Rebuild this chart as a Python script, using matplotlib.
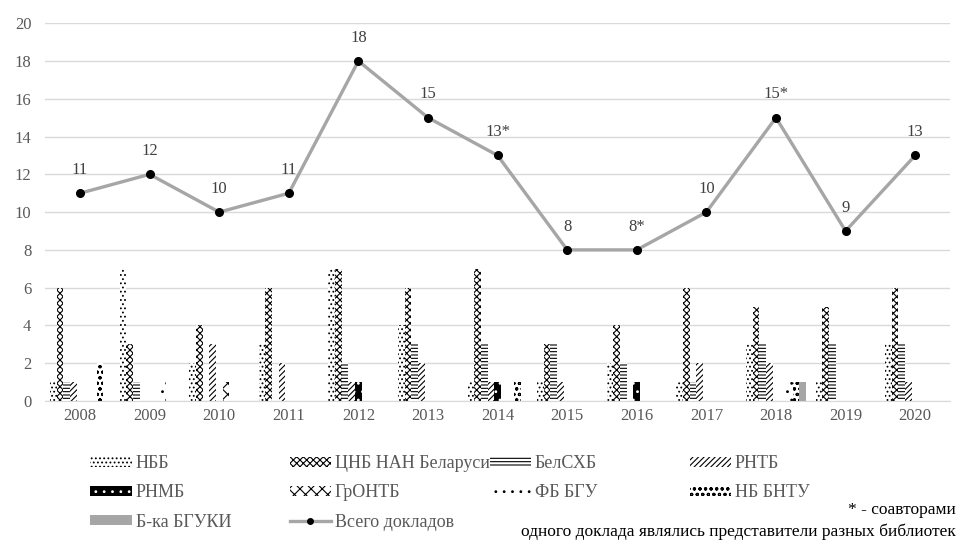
import numpy as np
import matplotlib.pyplot as plt
from matplotlib.patches import Patch
from matplotlib.lines import Line2D

plt.rcParams['font.family'] = ['Liberation Serif', 'DejaVu Serif']
plt.rcParams['hatch.linewidth'] = 0.8

years = ['2008', '2009', '2010', '2011', '2012', '2013', '2014',
         '2015', '2016', '2017', '2018', '2019', '2020']

# доклады по библиотекам
nbb = [1, 7, 2, 3, 7, 4, 1, 1, 2, 1, 3, 1, 3]
cnb = [6, 3, 4, 6, 7, 6, 7, 3, 4, 6, 5, 5, 6]
belshb = [1, 1, 0, 0, 2, 3, 3, 3, 2, 1, 3, 3, 3]
rntb = [1, 0, 3, 2, 1, 2, 1, 1, 0, 2, 2, 0, 1]
rnmb = [0, 0, 0, 0, 1, 0, 1, 0, 1, 0, 0, 0, 0]
grontb = [0, 0, 1, 0, 0, 0, 0, 0, 0, 0, 0, 0, 0]
fb_bgu = [0, 1, 0, 0, 0, 0, 0, 0, 0, 0, 1, 0, 0]
nb_bntu = [2, 0, 0, 0, 0, 0, 1, 0, 0, 0, 1, 0, 0]
bguki = [0, 0, 0, 0, 0, 0, 0, 0, 0, 0, 1, 0, 0]

total = [11, 12, 10, 11, 18, 15, 13, 8, 8, 10, 15, 9, 13]
total_labels = ['11', '12', '10', '11', '18', '15', '13*', '8', '8*', '10', '15*', '9', '13']

series = [
    ('НББ', nbb, 'white', 'black', '....'),
    ('ЦНБ НАН Беларуси', cnb, 'white', 'black', 'xxxxx'),
    ('БелСХБ', belshb, 'white', 'black', '-----'),
    ('РНТБ', rntb, 'white', 'black', '//////'),
    ('РНМБ', rnmb, 'black', 'white', '..'),
    ('ГрОНТБ', grontb, 'white', 'black', 'xxx'),
    ('ФБ БГУ', fb_bgu, 'white', 'black', '..'),
    ('НБ БНТУ', nb_bntu, 'white', 'black', 'ooo'),
    ('Б-ка БГУКИ', bguki, '#A6A6A6', '#A6A6A6', None),
]

fig = plt.figure(figsize=(9.62, 5.4), dpi=100)
ax = fig.add_axes([0.047, 0.2574, 0.9405, 0.6996])

x = np.arange(len(years))
w = 0.096
handles = []
for i, (name, vals, fc, hc, hatch) in enumerate(series):
    ax.bar(x + (i - 4) * w, vals, w, color=fc, edgecolor=hc, hatch=hatch,
           linewidth=0, zorder=2)
    handles.append(Patch(facecolor=fc, edgecolor=hc, hatch=hatch, linewidth=0, label=name))

ax.plot(x, total, color='#A6A6A6', linewidth=2.4, marker='o', markersize=5.5,
        markerfacecolor='black', markeredgecolor='black', zorder=3)
handles.append(Line2D([], [], color='#A6A6A6', linewidth=2.4, marker='o', markersize=4,
                      markerfacecolor='black', markeredgecolor='black', label='Всего докладов'))

for xi, v, lab in zip(x, total, total_labels):
    ax.annotate(lab, (xi, v), xytext=(0, 11), textcoords='offset points',
                ha='center', va='bottom', fontsize=12, color='#404040')

ax.set_xlim(-0.5, len(years) - 0.5)
ax.set_ylim(0, 20)
ax.set_yticks(range(0, 21, 2))
ax.set_xticks(x)
ax.set_xticklabels(years)
ax.tick_params(axis='both', length=0, labelsize=12, labelcolor='#595959')
ax.tick_params(axis='y', pad=10)
ax.tick_params(axis='x', pad=5)
ax.grid(axis='y', color='#D9D9D9', linewidth=1, zorder=0)
ax.set_axisbelow(True)
for s in ['top', 'right', 'left']:
    ax.spines[s].set_visible(False)
ax.spines['bottom'].set_color('#D9D9D9')

# легенда по колонкам
cols = [[0, 4, 8], [1, 5, 9], [2, 6], [3, 7]]
col_x = [0.094, 0.301, 0.509, 0.717]
for cx, idx in zip(col_x, cols):
    leg = fig.legend([handles[k] for k in idx], [handles[k].get_label() for k in idx],
                     loc='upper left', bbox_to_anchor=(cx, 0.157), frameon=False,
                     fontsize=13, handlelength=2.3, handleheight=0.45,
                     handletextpad=0.2, labelspacing=0.68, borderpad=0, borderaxespad=0)
    for t in leg.get_texts():
        t.set_color('#595959')

fig.text(0.993, 0.0555, '* - соавторами', ha='right', va='center', fontsize=12.5, color='black')
fig.text(0.993, 0.015, 'одного доклада являлись представители разных библиотек',
         ha='right', va='center', fontsize=12.5, color='black')

fig.savefig('out.png', dpi=100)
